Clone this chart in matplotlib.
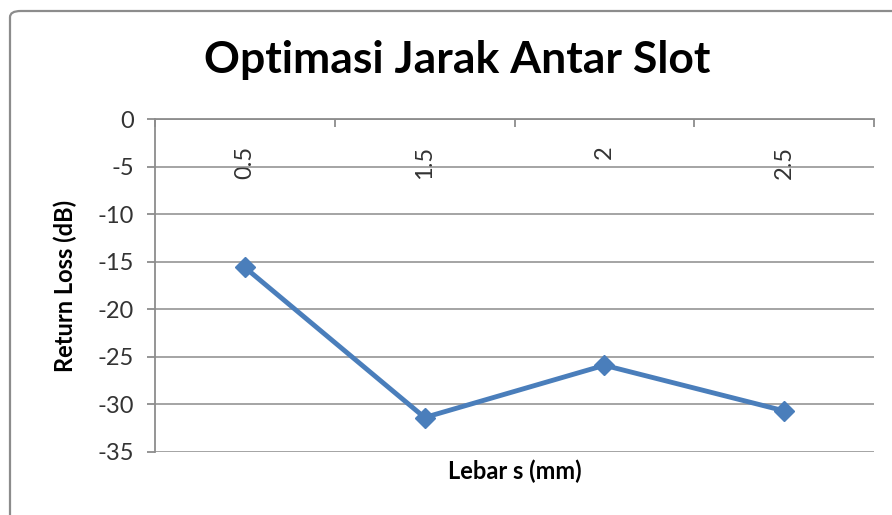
import matplotlib
matplotlib.use("Agg")
import matplotlib.pyplot as plt
from matplotlib.patches import FancyBboxPatch

# data
categories = ["0.5", "1.5", "2", "2.5"]
return_loss = [-15.6, -31.4, -25.9, -30.7]
y_ticks = [0, -5, -10, -15, -20, -25, -30, -35]

plt.rcParams["font.family"] = ["Lato", "DejaVu Sans"]
plt.rcParams["axes.unicode_minus"] = False

W, H = 892, 515
fig = plt.figure(figsize=(W / 100, H / 100), dpi=100)
fig.patch.set_facecolor("white")

# rounded chart border (runs off the right/bottom edge like the screenshot)
border = FancyBboxPatch((10 / W, -20 / H), (W + 20 - 10) / W, (H + 20 - 11) / H,
                        boxstyle="round,pad=0,rounding_size=0.012",
                        transform=fig.transFigure, facecolor="none",
                        edgecolor="#8c8c8c", linewidth=1.6, clip_on=False)
fig.patches.append(border)

left, right, top, bottom = 155, 874, 119.3, 451.7
ax = fig.add_axes([left / W, 1 - bottom / H, (right - left) / W, (bottom - top) / H])

x = list(range(len(categories)))
ax.plot(x, return_loss, color="#4a7ebb", linewidth=3.5, marker="D",
        markersize=10, markeredgecolor="#4a7ebb", zorder=3)

ax.set_xlim(-0.5, len(categories) - 0.5)
ax.set_ylim(-35, 0)
ax.set_yticks(y_ticks)
ax.yaxis.grid(True, color="#8c8c8c", linewidth=1.1)
ax.set_axisbelow(True)

for s in ["bottom", "right"]:
    ax.spines[s].set_visible(False)
for s in ["left", "top"]:
    ax.spines[s].set_color("#8c8c8c")
    ax.spines[s].set_linewidth(1.3)

# category axis sits at y=0 (top), labels rotated below it
ax.xaxis.tick_top()
ax.set_xticks(x)
ax.set_xticklabels(categories, rotation=90, fontsize=17, color="#333333")
ax.set_xticks([i - 0.5 for i in range(len(categories) + 1)], minor=True)
ax.tick_params(axis="x", which="major", length=0, pad=-19)
ax.tick_params(axis="x", which="minor", direction="in", length=6,
               color="#8c8c8c", width=1.3)
for lbl in ax.get_xticklabels():
    lbl.set_verticalalignment("top")

ax.tick_params(axis="y", direction="out", length=6, width=1.3,
               color="#8c8c8c", labelsize=17, labelcolor="#333333", pad=9)

ax.set_ylabel("Return Loss (dB)", fontsize=17, fontweight="bold")
ax.yaxis.set_label_coords(-0.108, 0.5)
ax.xaxis.set_label_position("bottom")
ax.set_xlabel("Lebar s (mm)", fontsize=17, fontweight="bold")
ax.xaxis.set_label_coords(0.5, -0.025)

fig.text(457 / W, 1 - 60 / H, "Optimasi Jarak Antar Slot", fontsize=32,
         fontweight="bold", ha="center", va="center")

fig.savefig("out.png", dpi=100)
